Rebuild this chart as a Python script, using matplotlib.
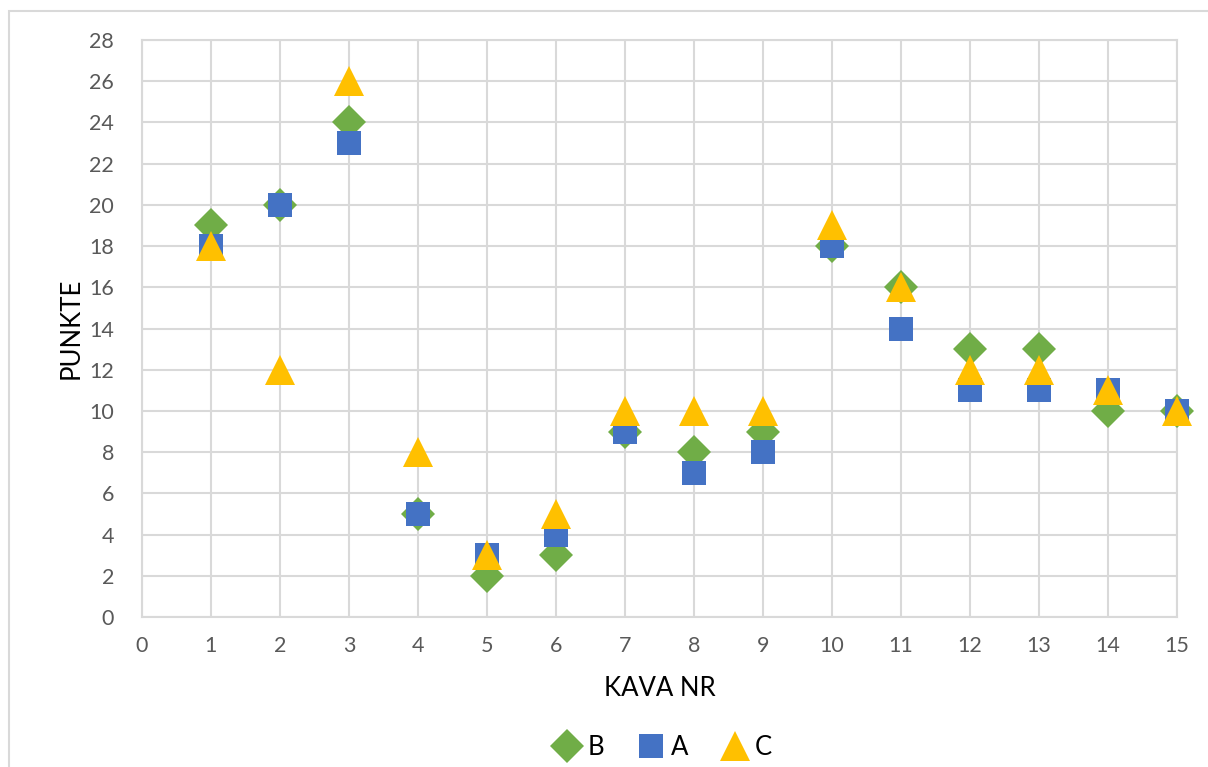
import matplotlib
matplotlib.use("Agg")
import matplotlib.pyplot as plt
from matplotlib.patches import Rectangle

plt.rcParams['font.family'] = ['Lato', 'DejaVu Sans']

kava = [1, 2, 3, 4, 5, 6, 7, 8, 9, 10, 11, 12, 13, 14, 15]
b_vals = [19, 20, 24, 5, 2, 3, 9, 8, 9, 18, 16, 13, 13, 10, 10]
a_vals = [18, 20, 23, 5, 3, 4, 9, 7, 8, 18, 14, 11, 11, 11, 10]
c_vals = [18, 12, 26, 8, 3, 5, 10, 10, 10, 19, 16, 12, 12, 11, 10]

fig = plt.figure(figsize=(12.08, 7.67), dpi=100)
ax = fig.add_axes([0.1175, 0.1956, 0.8568, 0.7522])

# chart border
fig.patches.append(Rectangle((9 / 1208, -0.1), 1.2, 1.1 - 11 / 767,
                             transform=fig.transFigure, fill=False,
                             edgecolor='#d9d9d9', linewidth=1.5))

ax.plot(kava, b_vals, linestyle='none', marker='D', markersize=17,
        color='#70AD47', markeredgewidth=0, label='B', clip_on=False, zorder=3)
ax.plot(kava, a_vals, linestyle='none', marker='s', markersize=17,
        color='#4472C4', markeredgewidth=0, label='A', clip_on=False, zorder=4)
ax.plot(kava, c_vals, linestyle='none', marker='^', markersize=22,
        color='#FFC000', markeredgewidth=0, label='C', clip_on=False, zorder=5)

ax.set_xlim(0, 15)
ax.set_ylim(0, 28)
ax.set_xticks(range(0, 16))
ax.set_yticks(range(0, 29, 2))
ax.grid(True, color='#d9d9d9', linewidth=1.5)
ax.set_axisbelow(True)
for s in ax.spines.values():
    s.set_color('#d9d9d9')
    s.set_linewidth(1.5)
ax.tick_params(axis='y', length=0, labelsize=15.5, labelcolor='#595959', pad=20)
ax.tick_params(axis='x', length=0, labelsize=15.5, labelcolor='#595959', pad=14)

ax.set_xlabel('KAVA NR', fontsize=18.5, color='black', labelpad=14)
ax.set_ylabel('PUNKTE', fontsize=18.5, color='black', labelpad=4)

ax.legend(loc='upper center', bbox_to_anchor=(0.5, -0.165), ncol=3,
          frameon=False, fontsize=18.5, handletextpad=0.0, columnspacing=1.0,
          handlelength=1.6)

fig.savefig('out.png', dpi=100)
